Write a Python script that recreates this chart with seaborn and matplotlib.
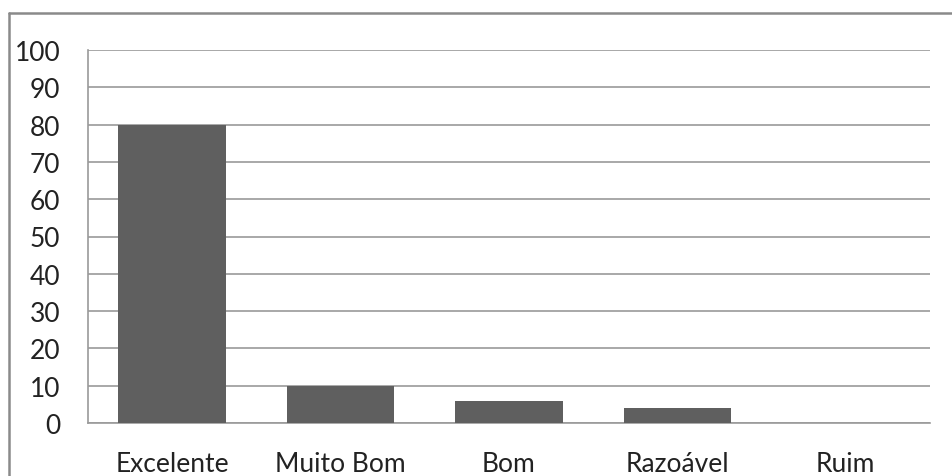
import matplotlib
matplotlib.use("Agg")
import matplotlib.pyplot as plt
from matplotlib.lines import Line2D
import seaborn as sns
import pandas as pd

categories = ["Excelente", "Muito Bom", "Bom", "Razoável", "Ruim"]
values = [80, 10, 6, 4, 0]
yticks = [0, 10, 20, 30, 40, 50, 60, 70, 80, 90, 100]

sns.set_theme(style="white")
plt.rcParams["font.family"] = ["Lato", "DejaVu Sans"]

df = pd.DataFrame({"categoria": categories, "valor": values})

W, H = 953, 477
fig = plt.figure(figsize=(W / 100, H / 100), dpi=100)
ax = fig.add_axes([88 / W, 1 - 424 / H, (930 - 88) / W, (424 - 51) / H])

sns.barplot(data=df, x="categoria", y="valor", color="#5f5f5f",
            saturation=1, width=0.64, linewidth=0, ax=ax, zorder=3)

ax.set_ylim(0, 100)
ax.set_yticks(yticks)
ax.set_yticklabels([str(t) for t in yticks])
ax.set_xlim(-0.5, 4.5)
ax.yaxis.grid(True, color="#9a9a9a", linewidth=1.2, zorder=0)
ax.set_axisbelow(True)
ax.set_xlabel("")
ax.set_ylabel("")

for side in ["top", "right"]:
    ax.spines[side].set_visible(False)
for side in ["left", "bottom"]:
    ax.spines[side].set_color("#9a9a9a")
    ax.spines[side].set_linewidth(1.2)

ax.tick_params(axis="y", length=0, pad=20, labelsize=19, colors="#222222")
ax.tick_params(axis="x", length=0, pad=20, labelsize=19, colors="#222222")

# outer chart frame (top and left edges)
fig.add_artist(Line2D([9 / W, 1], [1 - 14 / H, 1 - 14 / H], color="#8a8a8a", linewidth=1.8))
fig.add_artist(Line2D([9 / W, 9 / W], [0, 1 - 14 / H], color="#8a8a8a", linewidth=1.8))

fig.savefig("out.png", dpi=100, facecolor="white")
